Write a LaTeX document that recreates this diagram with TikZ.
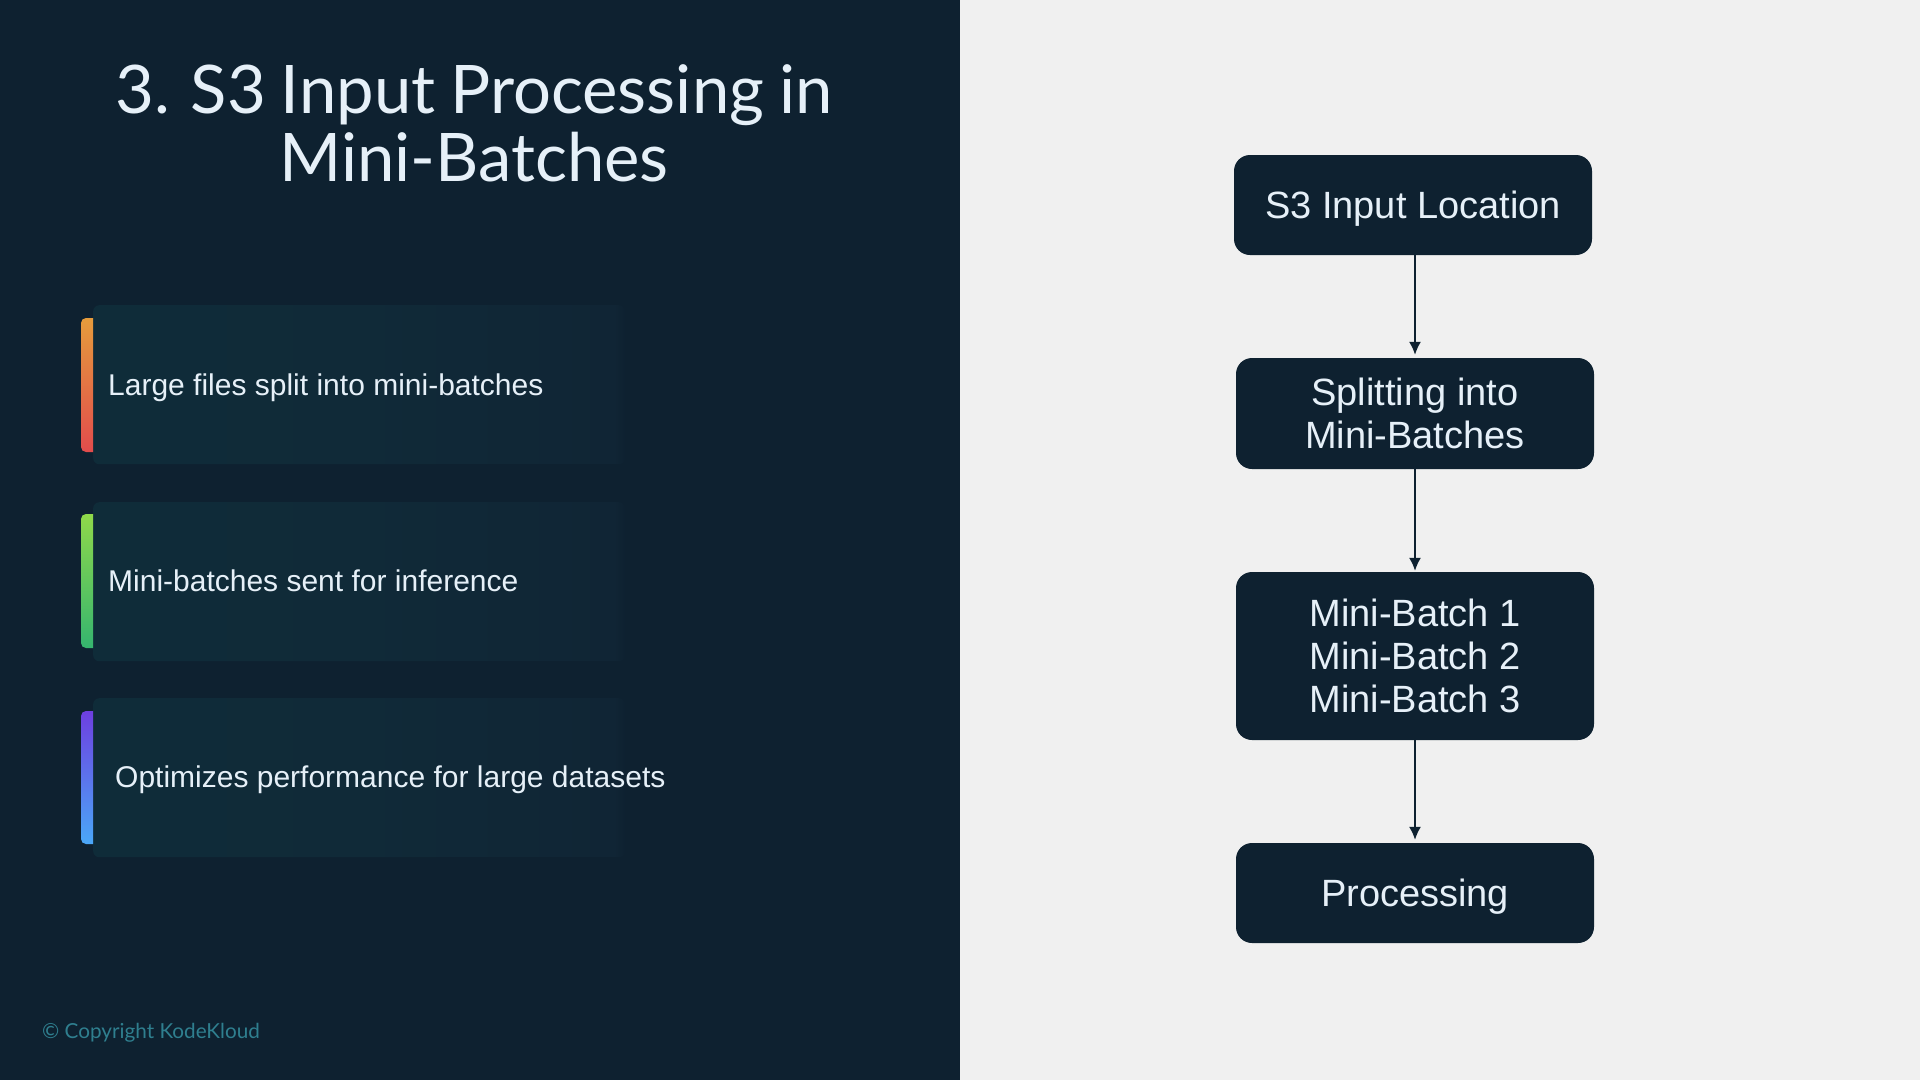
\documentclass[tikz,border=0pt]{standalone}
\usepackage{fontspec}
\setmainfont{Liberation Sans}
\newfontfamily\titlefont{Lato}
\usetikzlibrary{arrows.meta,positioning}
\definecolor{navy}{HTML}{0E2130}
\definecolor{paper}{HTML}{F0F0F0}
\definecolor{cardL}{HTML}{0F2C39}
\definecolor{cardM}{HTML}{102A38}
\definecolor{cardE}{HTML}{102535}
\definecolor{ink}{HTML}{E6F0F8}
\definecolor{copy}{HTML}{2F7F8F}
\definecolor{oA}{HTML}{E59C3C}\definecolor{oB}{HTML}{E24C4C}
\definecolor{gA}{HTML}{8FD94A}\definecolor{gB}{HTML}{35B56F}
\definecolor{pA}{HTML}{6D3FE0}\definecolor{pB}{HTML}{4AA8F8}
\pgfdeclarehorizontalshading{cardfade}{100bp}{color(0bp)=(cardL); color(25bp)=(cardL); color(50bp)=(cardM); color(74bp)=(cardE); color(75bp)=(navy); color(100bp)=(navy)}
\tikzset{
  titletext/.style={text=ink,anchor=base,inner sep=0pt,font=\titlefont\fontsize{67}{67}\selectfont},
  flowbox/.style={draw=none,fill=navy,rounded corners=16pt,minimum width=358pt,text=ink,align=center,inner sep=0pt,font=\fontsize{38}{43}\selectfont},
  oneline/.style={text height=27pt,text depth=0pt},
  card/.style={draw=none,rounded corners=6pt,shading=cardfade,shading angle=0,minimum width=532pt,minimum height=159pt,inner sep=0pt,anchor=north west},
  cardtext/.style={text=ink,anchor=base west,inner sep=0pt,font=\fontsize{30}{34}\selectfont},
  flowarrow/.style={draw=navy,line width=1.6pt,-{Latex[length=13pt,width=12pt]}}
}
\begin{document}
\begin{tikzpicture}[x=1pt,y=-1pt]
\useasboundingbox (0,0) rectangle (1920,1080);
\fill[navy] (0,0) rectangle (960,1080);
\fill[paper] (960,0) rectangle (1920,1080);
\node[titletext] (t1) at (474,113) {\spaceskip=.222em\relax 3. S3 Input Processing in};
\node[titletext] (t2) at (474,181) {Mini-Batches};
% cards
\node[card] (c1) at (93,305) {};
\node[card] (c2) at (93,502) {};
\node[card] (c3) at (93,698) {};
\path[top color=oA,bottom color=oB] (93,318) [rounded corners=5pt] -- (81,318) -- (81,452) [sharp corners] -- (93,452) -- cycle;
\path[top color=gA,bottom color=gB] (93,514) [rounded corners=5pt] -- (81,514) -- (81,648) [sharp corners] -- (93,648) -- cycle;
\path[top color=pA,bottom color=pB] (93,711) [rounded corners=5pt] -- (81,711) -- (81,844) [sharp corners] -- (93,844) -- cycle;
\node[cardtext] (x1) at (108,395) {Large files split into mini-batches};
\node[cardtext] (x2) at (108,591) {Mini-batches sent for inference};
\node[cardtext] (x3) at (115,787) {Optimizes performance for large datasets};
\node[text=copy,anchor=base west,inner sep=0pt,font=\titlefont\fontsize{20.7}{24}\selectfont] (cr) at (42,1038) {© Copyright KodeKloud};
% flow
\node[flowbox,oneline,minimum height=100pt] (f1) at (1413,205) {S3 Input Location};
\node[flowbox,minimum height=111pt] (f2) at (1415,413.5) {Splitting into\\Mini-Batches};
\node[flowbox,minimum height=168pt] (f3) at (1415,656) {Mini-Batch 1\\Mini-Batch 2\\Mini-Batch 3};
\node[flowbox,oneline,minimum height=100pt] (f4) at (1415,893) {Processing};
\draw[flowarrow,shorten >=3pt] (f2.north |- f1.south) -- (f2.north);
\draw[flowarrow,shorten >=1pt] (f2.south) -- (f3.north);
\draw[flowarrow,shorten >=3pt] (f3.south) -- (f4.north);
\end{tikzpicture}
\end{document}
